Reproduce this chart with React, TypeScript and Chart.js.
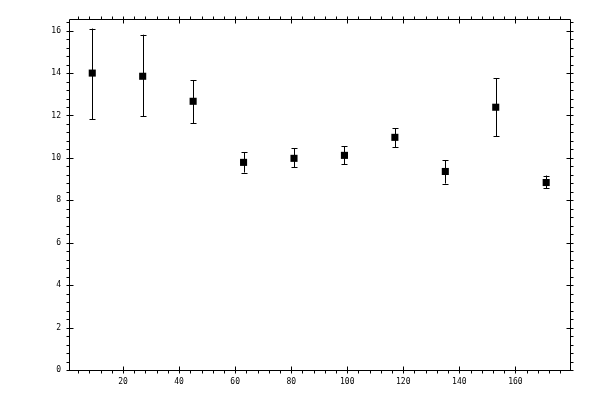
import React, { useEffect, useRef } from "react";
import { Chart, registerables } from "chart.js";

Chart.register(...registerables);

const xValues = [9, 27, 45, 63, 81, 99, 117, 135, 153, 171];
const yValues = [14.0, 13.85, 12.67, 9.79, 9.98, 10.12, 10.97, 9.36, 12.39, 8.84];
const yHigh = [16.1, 15.81, 13.66, 10.26, 10.45, 10.54, 11.39, 9.88, 13.76, 9.17];
const yLow = [11.83, 11.96, 11.63, 9.31, 9.55, 9.69, 10.5, 8.79, 11.02, 8.56];

const xRange = [0.7, 179.5];
const yRange = [0, 16.55];
const xMajor = 20;
const xMinor = 4;
const yMajor = 2;
const yMinor = 0.4;

const tickFont = { family: "DejaVu Sans Mono", size: 8 };

// error bars + frame with inward/outward ticks on all four sides
const framePlugin = {
  id: "frame",
  afterDatasetsDraw(chart: any) {
    const { ctx, chartArea: a, scales } = chart;
    const xs = scales.x;
    const ys = scales.y;
    ctx.save();
    ctx.strokeStyle = "#000";
    ctx.lineWidth = 1;

    // error bars
    ctx.beginPath();
    xValues.forEach((xv, i) => {
      const px = Math.round(xs.getPixelForValue(xv)) + 0.5;
      const top = ys.getPixelForValue(yHigh[i]);
      const bot = ys.getPixelForValue(yLow[i]);
      ctx.moveTo(px, top);
      ctx.lineTo(px, bot);
      ctx.moveTo(px - 3, Math.round(top) + 0.5);
      ctx.lineTo(px + 3, Math.round(top) + 0.5);
      ctx.moveTo(px - 3, Math.round(bot) + 0.5);
      ctx.lineTo(px + 3, Math.round(bot) + 0.5);
    });
    ctx.stroke();

    const L = Math.round(a.left) + 0.5;
    const R = Math.round(a.right) + 0.5;
    const T = Math.round(a.top) + 0.5;
    const B = Math.round(a.bottom) + 0.5;
    ctx.beginPath();
    ctx.rect(L, T, R - L, B - T);

    const eps = 1e-6;
    // x ticks
    for (let v = Math.ceil(xRange[0] / xMinor) * xMinor; v <= xRange[1] + eps; v += xMinor) {
      const px = Math.round(xs.getPixelForValue(v)) + 0.5;
      const major = Math.abs(v / xMajor - Math.round(v / xMajor)) < eps;
      const inner = major ? 4 : 0;
      ctx.moveTo(px, B + 3);
      ctx.lineTo(px, B - inner);
      ctx.moveTo(px, T - 3);
      ctx.lineTo(px, T + inner);
    }
    // y ticks
    for (let v = Math.ceil(yRange[0] / yMinor) * yMinor; v <= yRange[1] + eps; v += yMinor) {
      const py = Math.round(ys.getPixelForValue(v)) + 0.5;
      const major = Math.abs(v / yMajor - Math.round(v / yMajor)) < eps;
      const inner = major ? 4 : 0;
      ctx.moveTo(L - 3, py);
      ctx.lineTo(L + inner, py);
      ctx.moveTo(R + 3, py);
      ctx.lineTo(R - inner, py);
    }
    ctx.stroke();
    ctx.restore();
  },
};

const App = () => {
  const chartRef: any = useRef(null);
  const chartInstance: any = useRef(null);

  useEffect(() => {
    if (chartRef.current) {
      const ctx = chartRef.current.getContext("2d");
      chartInstance.current = new Chart(ctx, {
        type: "scatter",
        data: {
          datasets: [
            {
              data: xValues.map((x, i) => ({ x, y: yValues[i] })),
              pointStyle: "rect",
              pointRadius: 5,
              pointBackgroundColor: "#000",
              pointBorderColor: "#000",
              pointBorderWidth: 0,
              showLine: false,
            },
          ],
        },
        options: {
          animation: false,
          responsive: false,
          devicePixelRatio: 1,
          layout: { padding: { left: 8, top: 19, right: 30, bottom: 0 } },
          plugins: {
            legend: { display: false },
            tooltip: { enabled: false },
          },
          scales: {
            x: {
              type: "linear",
              min: xRange[0],
              max: xRange[1],
              grid: { display: false, drawTicks: false },
              border: { display: false },
              afterFit: (s: any) => {
                s.height = 30;
              },
              ticks: {
                stepSize: xMajor,
                includeBounds: false,
                color: "#000",
                font: tickFont,
                padding: 7,
                maxRotation: 0,
              },
            },
            y: {
              type: "linear",
              min: yRange[0],
              max: yRange[1],
              grid: { display: false, drawTicks: false },
              border: { display: false },
              afterFit: (s: any) => {
                s.width = 61;
              },
              ticks: {
                stepSize: yMajor,
                includeBounds: false,
                color: "#000",
                font: tickFont,
                padding: 8,
              },
            },
          },
        },
        plugins: [framePlugin],
      } as any);
    }

    return () => {
      if (chartInstance.current) {
        chartInstance.current.destroy();
      }
    };
  }, []);

  return (
    <div style={{ position: "fixed", left: 0, top: 0, width: 600, height: 400, background: "#fff" }}>
      <canvas ref={chartRef} width={600} height={400}></canvas>
    </div>
  );
};

export default App;
